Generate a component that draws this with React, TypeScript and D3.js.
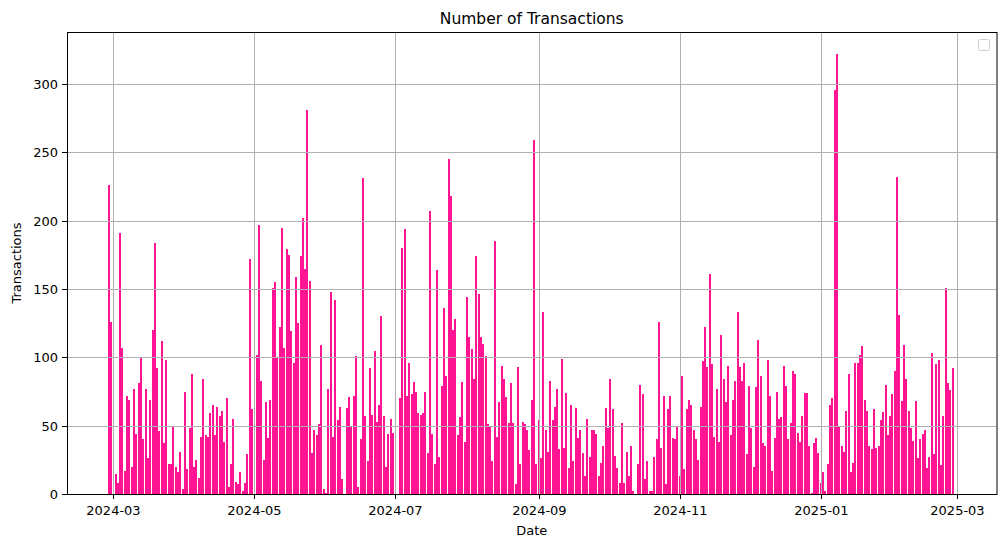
import * as d3 from 'd3';
import React, {useRef, useEffect} from 'react';

// daily transaction counts, first day is 2024-02-28
const firstDay = new Date(2024, 1, 28);

const febMarApr = [
  226, 126, 0, 15, 8, 191, 107, 17, 72, 69, 20, 77, 44, 81, 100, 40, 77, 26, 69, 120,
  184, 92, 46, 112, 37, 98, 22, 22, 49, 20, 16, 31, 4, 75, 18, 48, 88, 20, 25, 12,
  42, 84, 43, 42, 59, 65, 43, 64, 57, 61, 38, 70, 5, 22, 55, 9, 7, 16, 2, 8,
  29, 172, 62
];
const mayJun = [
  0, 102, 197, 83, 25, 67, 41, 69, 151, 155, 100, 122, 195, 107, 179, 175, 119, 96, 159, 125,
  174, 202, 165, 281, 156, 30, 47, 43, 51, 109, 4, 1, 77, 148, 42, 142, 54, 64, 11, 0,
  63, 71, 49, 72, 101, 5, 40, 231, 57, 24, 92, 58, 105, 53, 65, 130, 57, 20, 44, 55,
  45
];
const julAug = [
  0, 0, 70, 180, 194, 72, 96, 73, 82, 75, 59, 58, 59, 75, 30, 207, 44, 22, 164, 27,
  79, 136, 86, 245, 218, 120, 128, 43, 56, 82, 38, 144, 115, 106, 84, 174, 146, 115, 110, 101,
  51, 49, 24, 185, 42, 67, 94, 84, 71, 52, 81, 52, 7, 93, 22, 53, 51, 47, 32, 69,
  259, 22
];
const sepOct = [
  54, 26, 133, 47, 31, 83, 54, 64, 77, 33, 99, 34, 74, 19, 65, 24, 63, 41, 47, 30,
  13, 55, 27, 47, 47, 44, 13, 23, 35, 63, 48, 84, 62, 28, 19, 8, 52, 8, 31, 13,
  35, 2, 0, 22, 80, 73, 11, 24, 2, 2, 27, 40, 126, 34, 72, 7, 62, 72, 41, 40,
  50
];
const novDec = [
  13, 86, 18, 62, 69, 65, 47, 40, 25, 64, 97, 122, 93, 161, 95, 42, 77, 38, 116, 84,
  67, 94, 43, 69, 83, 133, 93, 83, 96, 29, 79, 48, 20, 78, 113, 86, 37, 35, 98, 72,
  17, 41, 75, 55, 56, 94, 79, 40, 52, 90, 88, 45, 38, 57, 74, 74, 35, 1, 37, 41,
  30
];
const janFeb = [
  8, 16, 2, 22, 65, 70, 296, 322, 49, 35, 31, 61, 88, 16, 23, 96, 96, 102, 108, 69,
  61, 35, 33, 62, 34, 35, 54, 60, 80, 43, 57, 73, 90, 232, 131, 68, 109, 84, 61, 48,
  39, 68, 26, 40, 44, 47, 19, 27, 103, 29, 95, 98, 21, 57, 151, 81, 76, 92
];

const counts = [...febMarApr, ...mayJun, ...julAug, ...sepOct, ...novDec, ...janFeb];
const yTicks = [0, 50, 100, 150, 200, 250, 300];

const W = 1005;
const H = 547;
const M = {left: 67, right: 996.5, top: 32, bottom: 494};

export default function App() {
  const ref = useRef<SVGSVGElement>(null);

  useEffect(() => {
    const svg = d3.select(ref.current);
    svg.selectAll("*").remove();

    const data = counts.map((v, i) => ({date: d3.timeDay.offset(firstDay, i), value: v}));
    const day = 864e5;

    const x = d3.scaleTime()
      .domain([new Date(+new Date(2024, 2, 1) - 20 * day), new Date(+new Date(2025, 2, 1) + 17 * day)])
      .range([M.left, M.right]);
    const y = d3.scaleLinear()
      .domain([0, 322 * 1.05])
      .range([M.bottom, M.top]);

    const dayPx = x(d3.timeDay.offset(firstDay, 1)) - x(firstDay);
    const barW = Math.round(dayPx * 0.8);

    svg.append("rect")
      .attr("x", M.left).attr("y", M.top)
      .attr("width", M.right - M.left).attr("height", M.bottom - M.top)
      .attr("fill", "white");

    // bars
    svg.append("g")
      .selectAll("rect")
      .data(data.filter(d => d.value > 0))
      .enter()
      .append("rect")
      .attr("x", d => Math.round(x(d.date) - barW / 2))
      .attr("y", d => y(d.value))
      .attr("width", barW)
      .attr("height", d => M.bottom - y(d.value))
      .attr("fill", "#ff1493")
      .attr("shape-rendering", "crispEdges");

    // grid sits over the bars, as in matplotlib
    const xTicks = x.ticks(d3.timeMonth.every(2)!);
    const grid = svg.append("g").attr("stroke", "#b0b0b0").attr("stroke-width", 1);
    grid.selectAll("line.v")
      .data(xTicks)
      .enter()
      .append("line")
      .attr("x1", d => Math.round(x(d)) + 0.5).attr("x2", d => Math.round(x(d)) + 0.5)
      .attr("y1", M.top).attr("y2", M.bottom);
    grid.selectAll("line.h")
      .data(yTicks)
      .enter()
      .append("line")
      .attr("x1", M.left).attr("x2", M.right)
      .attr("y1", d => Math.round(y(d)) + 0.5).attr("y2", d => Math.round(y(d)) + 0.5);

    // frame
    svg.append("rect")
      .attr("x", M.left + 0.5).attr("y", M.top + 0.5)
      .attr("width", M.right - M.left).attr("height", M.bottom - M.top)
      .attr("fill", "none").attr("stroke", "black").attr("stroke-width", 1);

    const font = "DejaVu Sans, sans-serif";

    // x axis
    const xa = svg.append("g");
    xTicks.forEach(t => {
      const px = Math.round(x(t)) + 0.5;
      xa.append("line").attr("x1", px).attr("x2", px)
        .attr("y1", M.bottom).attr("y2", M.bottom + 5).attr("stroke", "black");
      xa.append("text").attr("x", px).attr("y", 515)
        .attr("text-anchor", "middle").attr("font-family", font).attr("font-size", 13)
        .text(d3.timeFormat("%Y-%m")(t));
    });

    // y axis
    const ya = svg.append("g");
    yTicks.forEach(t => {
      const py = Math.round(y(t)) + 0.5;
      ya.append("line").attr("x1", M.left - 5).attr("x2", M.left)
        .attr("y1", py).attr("y2", py).attr("stroke", "black");
      ya.append("text").attr("x", M.left - 9).attr("y", py + 4.5)
        .attr("text-anchor", "end").attr("font-family", font).attr("font-size", 13)
        .text(t);
    });

    svg.append("text")
      .attr("x", (M.left + M.right) / 2).attr("y", 535)
      .attr("text-anchor", "middle").attr("font-family", font).attr("font-size", 13)
      .text("Date");
    svg.append("text")
      .attr("transform", `translate(21, ${(M.top + M.bottom) / 2}) rotate(-90)`)
      .attr("text-anchor", "middle").attr("font-family", font).attr("font-size", 13)
      .text("Transactions");
    svg.append("text")
      .attr("x", (M.left + M.right) / 2).attr("y", 24)
      .attr("text-anchor", "middle").attr("font-family", font).attr("font-size", 15.5)
      .text("Number of Transactions");

    // empty legend box
    svg.append("rect")
      .attr("x", 978.5).attr("y", 39.5).attr("width", 11).attr("height", 11).attr("rx", 2)
      .attr("fill", "white").attr("fill-opacity", 0.8)
      .attr("stroke", "#cccccc").attr("stroke-width", 1);
  }, []);

  return (
    <svg ref={ref} width={W} height={H}
         style={{position: "absolute", left: 0, top: 0, background: "white"}}>
    </svg>
  );
}
